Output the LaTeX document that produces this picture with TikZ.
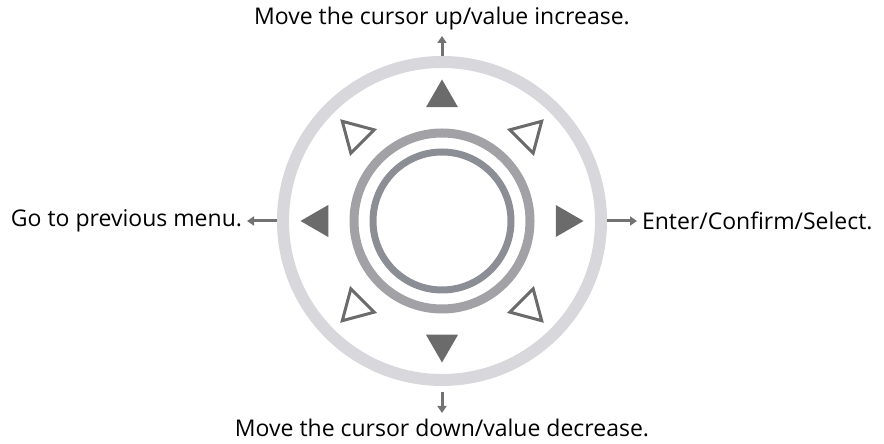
\documentclass[tikz,border=0pt]{standalone}
\usepackage{fontspec}
\setmainfont{Open Sans}
\usepackage{tikz}
\usetikzlibrary{positioning,shapes.geometric,arrows.meta}
\definecolor{ringlight}{HTML}{D7D7DC}
\definecolor{ringmid}{HTML}{A2A2A6}
\definecolor{ringdark}{HTML}{8B8F95}
\definecolor{keygray}{HTML}{6B6B6B}
\tikzstyle{dial}=[
        circle,
        draw=ringlight,
        line width=12pt,
        minimum size=318pt,
        inner sep=0pt
]
\tikzstyle{keyfilled}=[
        regular polygon,
        regular polygon sides=3,
        fill=keygray,
        minimum size=37pt,
        inner sep=0pt
]
\tikzstyle{keyhollow}=[
        regular polygon,
        regular polygon sides=3,
        draw=keygray,
        line width=3pt,
        minimum size=38pt,
        inner sep=0pt
]
\tikzstyle{pointer}=[
        draw=keygray!95!white,
        line width=3pt,
        -{Triangle[width=9pt,length=7pt]}
]
\tikzstyle{caption}=[
        font=\fontsize{23}{27}\selectfont,
        inner xsep=5pt,
        inner ysep=6pt,
        outer sep=0pt
]

\begin{document}
\begin{tikzpicture}[x=1pt,y=1pt]
                        \useasboundingbox (0,0) rectangle (884,444);

                        \node[dial] (dial) at (442,223) {};
                        \node[circle, draw=ringmid, line width=9pt, minimum size=176pt, inner sep=0pt] (rim) at (dial.center) {};
                        \node[circle, draw=ringdark, line width=7pt, minimum size=138pt, inner sep=0pt] (hub) at (dial.center) {};

                        \foreach \a/\r in {90/0, 0/-90, 270/180, 180/90} {
                            \node[keyfilled, rotate=\r] (key\a) at ([shift={(\a:123)}]dial.center) {};
                        }

                        \foreach \a in {45,135,225,315} {
                            \node[keyhollow, rotate=\a-90] (hollow\a) at ([shift={(\a:122)}]dial.center) {};
                        }

                        \node[caption, above=20pt of dial] (upTxt) {Move the cursor up/value increase.};
                        \node[caption, below=27pt of dial] (downTxt) {Move the cursor down/value decrease.};
                        \node[caption, left=30pt of dial] (backTxt) {Go to previous menu.};
                        \node[caption, right=30pt of dial] (enterTxt) {Enter/Confirm/Select.};

                        \draw[pointer] (dial) -- (upTxt);
                        \draw[pointer, shorten <=6pt] (dial) -- (downTxt);
                        \draw[pointer] (dial) -- (backTxt);
                        \draw[pointer] (dial) -- (enterTxt);

                    \end{tikzpicture}
\end{document}
